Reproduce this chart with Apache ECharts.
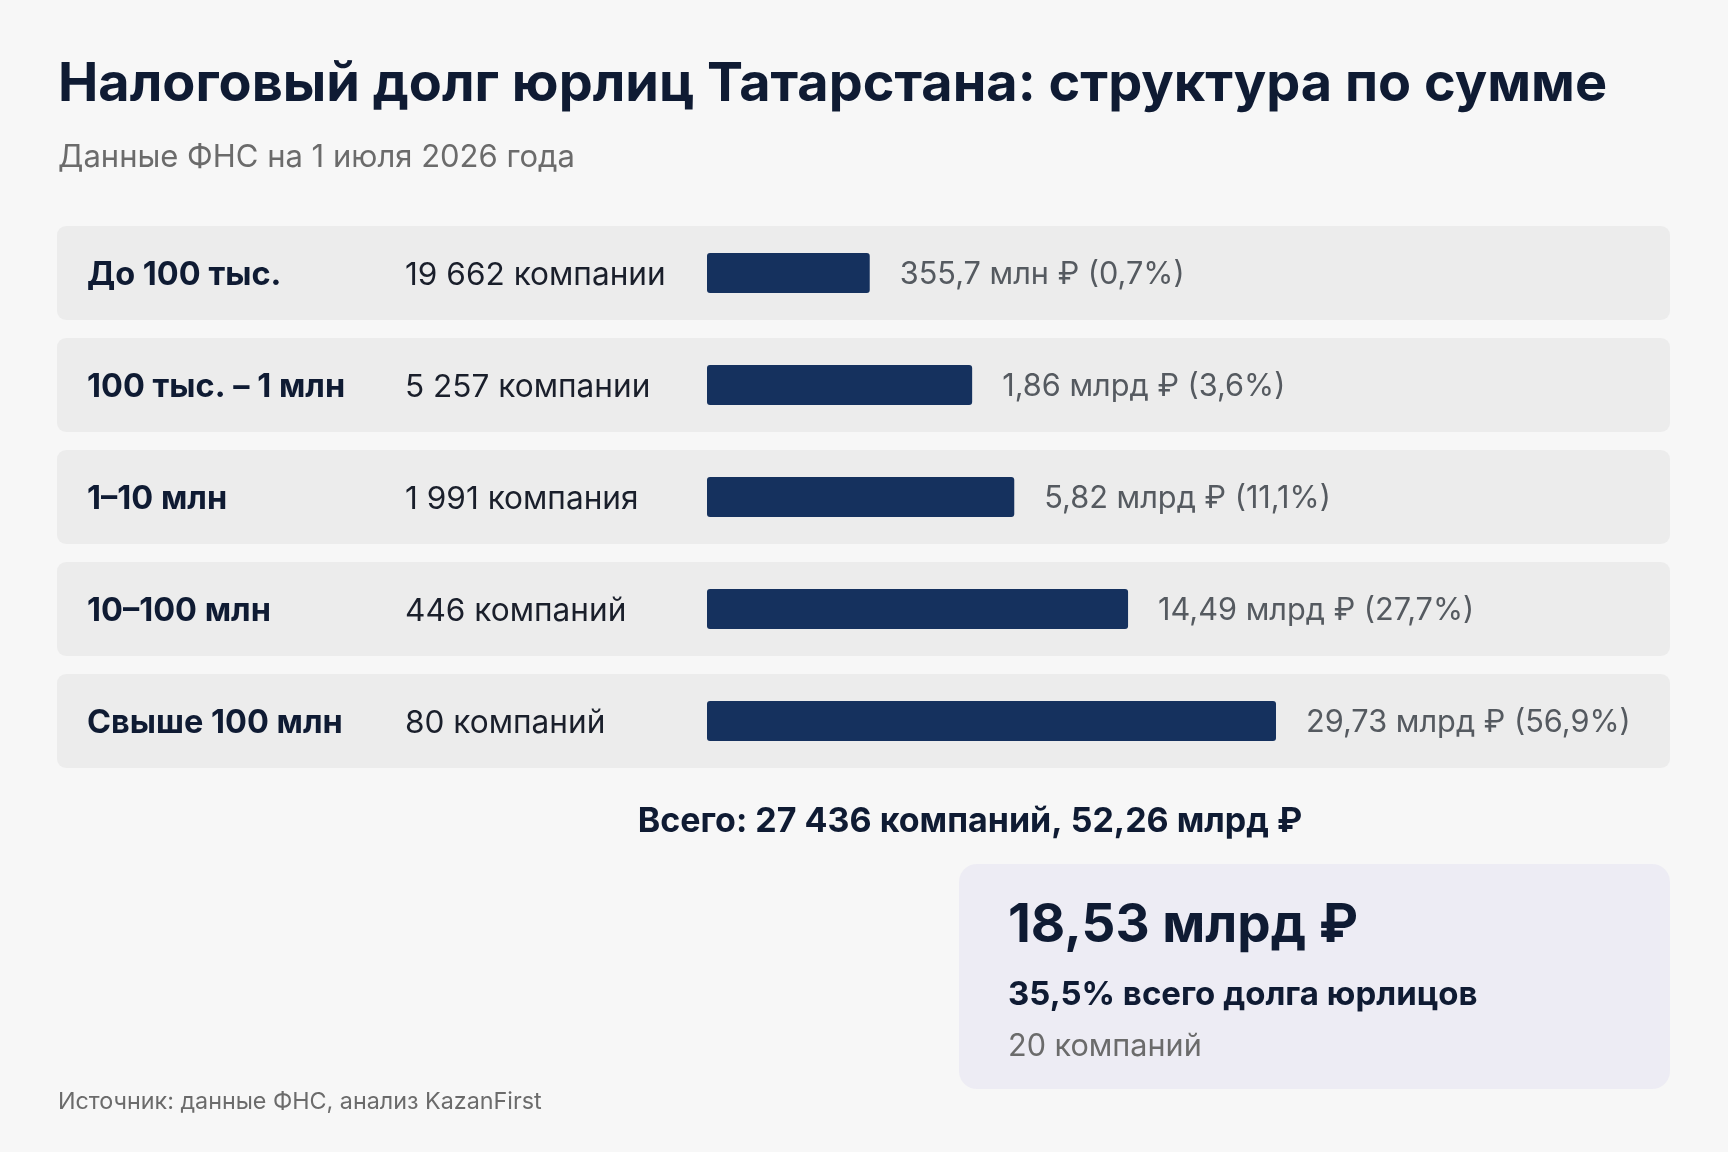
<!DOCTYPE html>
<html lang="ru">
  <head>
    <meta charset="UTF-8" />
    <title>Налоговый долг юрлиц Татарстана</title>
    <style>
      html,
      body {
        margin: 0;
        padding: 0;
        background: #f7f7f7;
      }
      #chart {
        width: 1728px;
        height: 1152px;
      }
    </style>
    <script src="https://cdn.jsdelivr.net/npm/echarts@6/dist/echarts.min.js"></script>
  </head>
  <body>
    <div id="chart"></div>
    <script>
      // data
      const groups = ["До 100 тыс.", "100 тыс. – 1 млн", "1–10 млн", "10–100 млн", "Свыше 100 млн"];
      const companies = ["19 662 компании", "5 257 компании", "1 991 компания", "446 компаний", "80 компаний"];
      const sumLabels = ["355,7 млн ₽ (0,7%)", "1,86 млрд ₽ (3,6%)", "5,82 млрд ₽ (11,1%)", "14,49 млрд ₽ (27,7%)", "29,73 млрд ₽ (56,9%)"];
      // bars in the picture are not proportional to the sums, so keep their
      // drawn length as a share of the longest bar
      const barLength = [28.6, 46.6, 54, 74, 100];
      const panelFill = [1, 1, 1, 1, 1];

      const totalText = "Всего: 27 436 компаний, 52,26 млрд ₽";
      const topSum = "18,53 млрд ₽";
      const topShare = "35,5% всего долга юрлицов";
      const topCount = "20 компаний";

      const font = "Inter, 'Noto Sans', sans-serif";
      const navy = "#0f1b33";

      let chart = echarts.init(document.getElementById("chart"), null, { renderer: "canvas" });

      let option = {
        backgroundColor: "#f7f7f7",
        animation: false,
        grid: [
          { left: 57, right: 58, top: 217, height: 560 },
          { left: 707, width: 569, top: 217, height: 560 },
        ],
        xAxis: [
          { gridIndex: 0, type: "value", min: 0, max: 1, show: false },
          { gridIndex: 1, type: "value", min: 0, max: 100, show: false },
        ],
        yAxis: [
          { gridIndex: 0, type: "category", data: groups, inverse: true, show: false },
          { gridIndex: 1, type: "category", data: groups, inverse: true, show: false },
        ],
        series: [
          {
            type: "bar",
            xAxisIndex: 0,
            yAxisIndex: 0,
            data: panelFill,
            barWidth: 94,
            itemStyle: { color: "#ececec", borderRadius: 9 },
            silent: true,
            label: {
              show: true,
              position: "insideLeft",
              distance: 30,
              offset: [0, 2],
              formatter: (p) => "{a|" + groups[p.dataIndex] + "}{b|" + companies[p.dataIndex] + "}",
              rich: {
                a: { fontFamily: font, fontWeight: 700, fontSize: 32.5, color: navy, width: 318 },
                b: { fontFamily: font, fontWeight: 400, fontSize: 31.6, color: "#1a1f2b" },
              },
            },
          },
          {
            type: "bar",
            xAxisIndex: 1,
            yAxisIndex: 1,
            data: barLength,
            barWidth: 40,
            itemStyle: { color: "#15315e", borderRadius: 3 },
            label: {
              show: true,
              position: "right",
              distance: 30,
              offset: [0, 2],
              formatter: (p) => sumLabels[p.dataIndex],
              fontFamily: font,
              fontSize: 30.7,
              color: "#555a60",
            },
          },
        ],
        graphic: [
          {
            type: "text",
            left: 58,
            top: 58,
            style: {
              text: "Налоговый долг юрлиц Татарстана: структура по сумме",
              font: "700 54px " + font,
              fill: navy,
            },
          },
          {
            type: "text",
            left: 58,
            top: 142,
            style: {
              text: "Данные ФНС на 1 июля 2026 года",
              font: "400 31px " + font,
              fill: "#6b6b6b",
            },
          },
          {
            type: "text",
            x: 970,
            y: 822,
            style: {
              text: totalText,
              font: "700 34px " + font,
              fill: navy,
              align: "center",
              verticalAlign: "middle",
            },
          },
          {
            type: "rect",
            shape: { x: 959, y: 864, width: 711, height: 225, r: 18 },
            style: { fill: "#edecf4" },
          },
          {
            type: "text",
            x: 1008,
            y: 926,
            style: {
              text: topSum,
              font: "700 53px " + font,
              fill: navy,
              verticalAlign: "middle",
            },
          },
          {
            type: "text",
            x: 1008,
            y: 995,
            style: {
              text: topShare,
              font: "700 33px " + font,
              fill: navy,
              verticalAlign: "middle",
            },
          },
          {
            type: "text",
            x: 1008,
            y: 1047,
            style: {
              text: topCount,
              font: "400 30.6px " + font,
              fill: "#6b6b6b",
              verticalAlign: "middle",
            },
          },
          {
            type: "text",
            x: 58,
            y: 1102,
            style: {
              text: "Источник: данные ФНС, анализ KazanFirst",
              font: "400 23.3px " + font,
              fill: "#6b6b6b",
              verticalAlign: "middle",
            },
          },
        ],
      };

      chart.setOption(option);
      window.addEventListener("resize", chart.resize);
    </script>
  </body>
</html>
